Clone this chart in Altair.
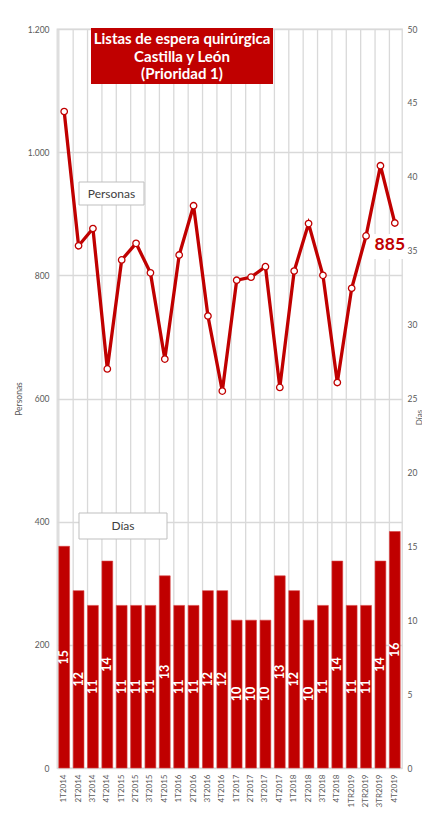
import altair as alt
import pandas as pd

quarters = ["1T2014", "2T2014", "3T2014", "4T2014",
            "1T2015", "2T2015", "3T2015", "4T2015",
            "1T2016", "2T2016", "3T2016", "4T2016",
            "1T2017", "2T2017", "3T2017", "4T2017",
            "1T2018", "2T2018", "3T2018", "4T2018",
            "1TR2019", "2TR2019", "3TR2019", "4T2019"]
personas = [1066, 848, 876, 648, 825, 852, 804, 664, 833, 913, 734, 612,
            792, 797, 814, 618, 807, 884, 800, 626, 779, 864, 978, 885]
dias = [15, 12, 11, 14, 11, 11, 11, 13, 11, 11, 12, 12,
        10, 10, 10, 13, 12, 10, 11, 14, 11, 11, 14, 16]
personas_ticks = [0, 200, 400, 600, 800, 1000, 1200]
dias_ticks = [0, 5, 10, 15, 20, 25, 30, 35, 40, 45, 50]
title_lines = ["Listas de espera quirúrgica", "Castilla y León", "(Prioridad 1)"]

df = pd.DataFrame({"trimestre": quarters, "personas": personas, "dias": dias})
one = pd.DataFrame({"k": [0]})

RED = "#C00000"
GRID = "#d9d9d9"
GREY = "#595959"
FONT = "Lato"
W, H = 345, 739

xscale = alt.Scale(type="band", paddingInner=0.25, paddingOuter=0.125)
x_axis = alt.Axis(title=None, labelAngle=270, labelFontSize=8, labelColor=GREY,
                  labelPadding=6, ticks=False, domain=False, grid=False, labelFont=FONT)
x_enc = alt.X("trimestre:N", sort=quarters, scale=xscale, axis=x_axis)

y_p_axis = alt.Axis(orient="left", values=personas_ticks, title="Personas",
                    labelExpr="replace(format(datum.value, ','), ',', '.')",
                    grid=True, gridColor=GRID, gridWidth=1.3, ticks=False, domain=False,
                    labelFontSize=8.5, labelColor=GREY, labelFont=FONT, labelPadding=8,
                    titleFontSize=8.5, titleColor=GREY, titleFontWeight="normal",
                    titleFont=FONT, titlePadding=4)
y_d_axis = alt.Axis(orient="right", values=dias_ticks, title="Días", grid=False,
                    ticks=False, domain=False, labelFontSize=8.5, labelColor=GREY,
                    labelFont=FONT, labelPadding=5, titleFontSize=8, titleColor=GREY,
                    titleFontWeight="normal", titleFont=FONT, titleAngle=270,
                    titleBaseline="middle", titleX=17, titleY=388)
y_p_scale = alt.Scale(domain=[0, 1200], nice=False)
y_d_scale = alt.Scale(domain=[0, 50], nice=False)

base = alt.Chart(df)

vgrid = base.mark_rule(color=GRID, strokeWidth=1.3).encode(
    x=alt.X("trimestre:N", sort=quarters, scale=xscale, axis=x_axis, bandPosition=0),
    y=alt.value(0), y2=alt.value(H))

bars = base.mark_bar(color=RED, stroke="#d84040", strokeWidth=0.6).encode(
    x=x_enc, y=alt.Y("dias:Q", scale=y_d_scale, axis=y_d_axis))

bar_text = base.transform_calculate(mid="datum.dias / 2").mark_text(
    angle=270, color="white", fontWeight="bold", fontSize=12.5, font=FONT,
    align="center", baseline="middle").encode(
    x=x_enc, y=alt.Y("mid:Q", scale=y_d_scale, axis=y_d_axis), text="dias:Q")

bars_layer = alt.layer(vgrid, bars, bar_text)

line = base.mark_line(color=RED, strokeWidth=3.3).encode(
    x=x_enc, y=alt.Y("personas:Q", scale=y_p_scale, axis=y_p_axis))
points = base.mark_point(shape="circle", fill="white", fillOpacity=1, stroke=RED,
                         strokeWidth=1.3, size=42, opacity=1).encode(
    x=x_enc, y=alt.Y("personas:Q", scale=y_p_scale, axis=y_p_axis))

last_box = alt.Chart(one).mark_rect(color="white").encode(
    x=alt.value(315), x2=alt.value(348), y=alt.value(205), y2=alt.value(230))
last_label = base.transform_filter("datum.trimestre == '4T2019'").mark_text(
    color=RED, fontWeight="bold", fontSize=17.5, font=FONT, dx=-5, dy=22,
    align="center", baseline="middle").encode(
    x=x_enc, y=alt.Y("personas:Q", scale=y_p_scale, axis=y_p_axis), text="personas:Q")

title_box = alt.Chart(one).mark_rect(color=RED).encode(
    x=alt.value(34), x2=alt.value(216), y=alt.value(-1), y2=alt.value(55))
title_marks = []
for i, t in enumerate(title_lines):
    title_marks.append(alt.Chart(one).mark_text(
        text=t, color="white", fontWeight="bold", fontSize=15, font=FONT,
        align="center", baseline="middle").encode(
        x=alt.value(125), y=alt.value(10 + 17.5 * i)))

pers_box = alt.Chart(one).mark_rect(fill="white", stroke="#bfbfbf", strokeWidth=1).encode(
    x=alt.value(22), x2=alt.value(87), y=alt.value(153), y2=alt.value(176))
pers_text = alt.Chart(one).mark_text(text="Personas", color="#404040", fontSize=12,
                                     font=FONT, align="center", baseline="middle").encode(
    x=alt.value(54.5), y=alt.value(164.5))
dias_box = alt.Chart(one).mark_rect(fill="white", stroke="#bfbfbf", strokeWidth=1).encode(
    x=alt.value(22), x2=alt.value(110), y=alt.value(484), y2=alt.value(510))
dias_text = alt.Chart(one).mark_text(text="Días", color="#404040", fontSize=12,
                                     font=FONT, align="center", baseline="middle").encode(
    x=alt.value(66), y=alt.value(497))

line_layer = alt.layer(line, points, last_box, last_label, title_box, *title_marks,
                       pers_box, pers_text, dias_box, dias_text)

chart = alt.layer(bars_layer, line_layer).resolve_scale(y="independent").properties(
    width=W, height=H,
    autosize=alt.AutoSizeParams(type="none"),
    padding={"left": 49, "top": 21, "right": 20, "bottom": 55},
).configure_view(stroke=GRID, strokeWidth=1.3)

chart.save("out.html", embed_options={"renderer": "svg", "actions": False})
